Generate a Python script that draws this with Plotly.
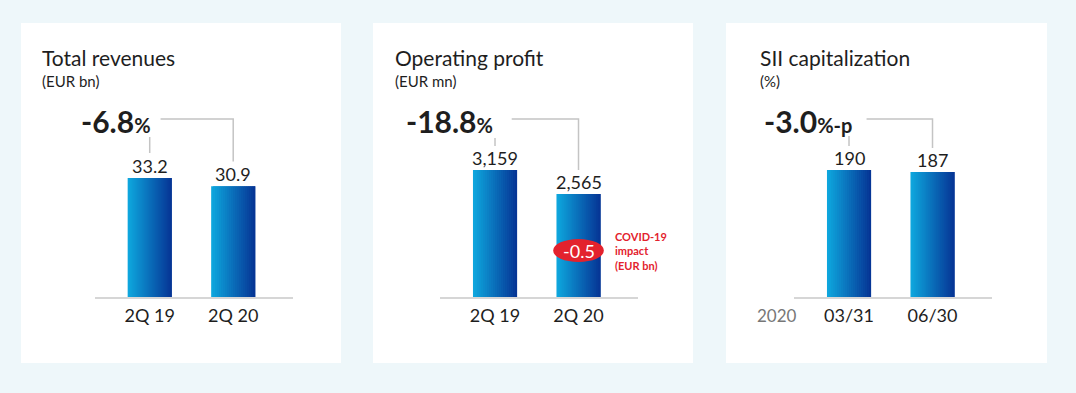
import plotly.graph_objects as go

W, H = 1076, 393

# ---- data ----
titles = ["Total revenues", "Operating profit", "SII capitalization"]
units = ["(EUR bn)", "(EUR mn)", "(%)"]
categories = [["2Q 19", "2Q 20"], ["2Q 19", "2Q 20"], ["03/31", "06/30"]]
values = [[33.2, 30.9], [3159, 2565], [190, 187]]
value_labels = [["33.2", "30.9"], ["3,159", "2,565"], ["190", "187"]]
changes = ["-6.8", "-18.8", "-3.0"]
change_units = ["%", "%", "%-p"]
y_max = [54.96, 4900, 294.7]
covid_impact = "-0.5"
covid_text = "COVID-19<br>impact<br>(EUR bn)"
year_label = "2020"

# ---- layout helpers (pixels) ----
def px(x):
    return x / W

def py(y):
    return 1 - y / H

FONT = "Lato"
TXT = "#1e1e1e"
RED = "#E3222D"
GRID = "#D6D6D6"
CONN = "#C4C4C4"

cards = [(21, 341), (373, 693), (726, 1047)]
x_domains = [(94.6, 292.5), (439.9, 637.8), (793.9, 991.8)]
x_range = [-0.66, 1.71]
title_x = [40, 392.5, 758]
pct_x = [79, 404, 762]
conn_start = [0.13, 0.20, 0.21]
conn_end_y = [161.5, 170, 148]
short_conn = [(137, 153), (138, 146), (136, 146)]

bar_w = 0.528
N = 22
c0 = (14, 166, 221)
c1 = (6, 54, 150)

def interp(t):
    return "rgb(%d,%d,%d)" % tuple(round(a + (b - a) * t) for a, b in zip(c0, c1))

fig = go.Figure()
shapes = []
annotations = []

for p in range(3):
    xa = "x" if p == 0 else "x%d" % (p + 1)
    ya = "y" if p == 0 else "y%d" % (p + 1)
    xs = [0, 1]
    sw = bar_w / N
    for k in range(N):
        fig.add_trace(go.Bar(
            x=xs, y=values[p],
            width=sw * (2 if k < N - 1 else 1),
            offset=-bar_w / 2 + k * sw,
            marker=dict(color=interp(k / (N - 1)), line=dict(width=0)),
            xaxis=xa, yaxis=ya, showlegend=False, hoverinfo="skip",
        ))
    # value labels
    for i in range(2):
        annotations.append(dict(
            x=xs[i], y=values[p][i], xref=xa, yref=ya, text=value_labels[p][i],
            showarrow=False, yanchor="bottom", yshift=-1,
            font=dict(family=FONT, size=18, color=TXT)))
    # card
    shapes.append(dict(type="rect", xref="paper", yref="paper", layer="below",
                       x0=px(cards[p][0]), x1=px(cards[p][1]), y0=py(363), y1=py(23),
                       fillcolor="white", line=dict(width=0)))
    # titles
    annotations.append(dict(x=px(title_x[p]), y=py(58), xref="paper", yref="paper",
                            text=titles[p], showarrow=False, xanchor="left", yanchor="middle",
                            font=dict(family=FONT, size=21, color=TXT)))
    annotations.append(dict(x=px(title_x[p]), y=py(81), xref="paper", yref="paper",
                            text=units[p], showarrow=False, xanchor="left", yanchor="middle",
                            font=dict(family=FONT, size=15, color=TXT)))
    # change
    annotations.append(dict(x=px(pct_x[p]), y=py(121), xref="paper", yref="paper",
                            text="<b>%s</b><b><span style='font-size:20px'>%s</span></b>" % (changes[p], change_units[p]),
                            showarrow=False, xanchor="left", yanchor="middle",
                            font=dict(family=FONT, size=30, color=TXT)))
    # connectors
    shapes.append(dict(type="path", xref=xa, yref="paper",
                       path="M %f,%f L 1,%f L 1,%f" % (conn_start[p], py(119), py(119), py(conn_end_y[p])),
                       line=dict(color=CONN, width=1.5)))
    shapes.append(dict(type="line", xref=xa, yref="paper", x0=0, x1=0,
                       y0=py(short_conn[p][0]), y1=py(short_conn[p][1]),
                       line=dict(color=CONN, width=1.5)))

# COVID bubble on panel 2
shapes.append(dict(type="circle", xref="x2", yref="paper", layer="above",
                   x0=1 - 25.5 / 84, x1=1 + 25.5 / 84, y0=py(262), y1=py(239),
                   fillcolor=RED, line=dict(width=0)))
annotations.append(dict(x=1, y=py(250.5), xref="x2", yref="paper", text=covid_impact,
                        showarrow=False, yanchor="middle",
                        font=dict(family=FONT, size=18, color="white")))
annotations.append(dict(x=px(613), y=py(251), xref="paper", yref="paper", text="<b>%s</b>" % covid_text,
                        showarrow=False, xanchor="left", yanchor="middle", align="left",
                        font=dict(family=FONT, size=11, color=RED)))
annotations.append(dict(x=px(777), y=py(315.5), xref="paper", yref="paper", text=year_label,
                        showarrow=False, xanchor="center", yanchor="middle",
                        font=dict(family=FONT, size=17, color="#777777")))

layout = dict(
    width=W, height=H, margin=dict(l=0, r=0, t=0, b=0),
    paper_bgcolor="#EEF7FA", plot_bgcolor="rgba(0,0,0,0)",
    barmode="overlay", showlegend=False,
    shapes=shapes, annotations=annotations,
)
for p in range(3):
    sfx = "" if p == 0 else str(p + 1)
    layout["xaxis" + sfx] = dict(
        domain=[px(x_domains[p][0]), px(x_domains[p][1])], range=x_range,
        tickvals=[0, 1], ticktext=categories[p], showgrid=False, zeroline=False,
        showline=True, linecolor=GRID, linewidth=1.5, ticks="",
        ticklabelstandoff=2, tickfont=dict(family=FONT, size=18, color=TXT),
        anchor="y" + sfx, fixedrange=True)
    layout["yaxis" + sfx] = dict(
        domain=[py(297), py(100)], range=[0, y_max[p]], visible=False,
        anchor="x" + sfx, fixedrange=True)

fig.update_layout(**layout)
fig.write_html("out.html", config={"displayModeBar": False},
               post_script="document.body.style.margin='0';document.body.style.overflow='hidden';")
